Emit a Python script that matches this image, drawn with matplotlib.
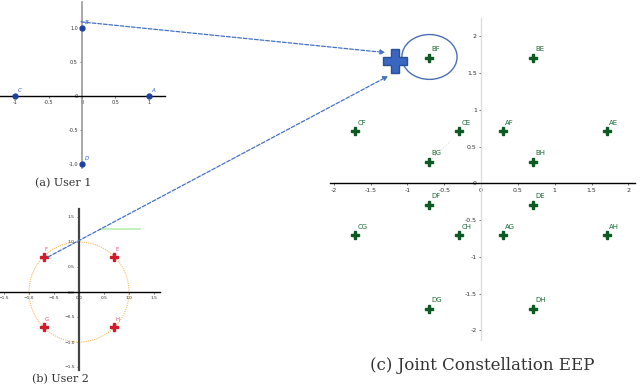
import matplotlib.pyplot as plt
from matplotlib.patches import ConnectionPatch, Ellipse

# user 1 constellation
u1_labels = ['A', 'B', 'C', 'D']
u1_x = [1, 0, -1, 0]
u1_y = [0, 1, 0, -1]

# user 2 constellation
u2_labels = ['E', 'F', 'G', 'H']
u2_x = [0.707, -0.707, -0.707, 0.707]
u2_y = [0.707, 0.707, -0.707, -0.707]

# joint constellation (sum of both users)
joint_labels = ['BF', 'BE', 'CF', 'CE', 'AF', 'AE', 'BG', 'BH',
                'DF', 'DE', 'CG', 'CH', 'AG', 'AH', 'DG', 'DH']
joint_x = [-0.707, 0.707, -1.707, -0.293, 0.293, 1.707, -0.707, 0.707,
           -0.707, 0.707, -1.707, -0.293, 0.293, 1.707, -0.707, 0.707]
joint_y = [1.707, 1.707, 0.707, 0.707, 0.707, 0.707, 0.293, 0.293,
           -0.293, -0.293, -0.707, -0.707, -0.707, -0.707, -1.707, -1.707]

W, H = 640, 392
fig = plt.figure(figsize=(W / 100, H / 100), dpi=100)


def px_axes(x0, y0, x1, y1):
    # axes box given in image pixels (top-left origin)
    return fig.add_axes([x0 / W, 1 - y1 / H, (x1 - x0) / W, (y1 - y0) / H])


def zero_axes(ax, xcol, ycol, xlw, ylw, fs):
    ax.patch.set_alpha(0)
    for s in ['top', 'right']:
        ax.spines[s].set_visible(False)
    ax.spines['left'].set_position('zero')
    ax.spines['bottom'].set_position('zero')
    ax.spines['bottom'].set_color(xcol)
    ax.spines['bottom'].set_linewidth(xlw)
    ax.spines['left'].set_color(ycol)
    ax.spines['left'].set_linewidth(ylw)
    ax.tick_params(labelsize=fs, length=1.5, width=0.5, pad=1.5,
                   colors='#333333')


# ---- (a) User 1
ax_a = px_axes(0, 2, 165, 168)
ax_a.set_xlim(-1.224, 1.239)
ax_a.set_ylim(-1.059, 1.382)
zero_axes(ax_a, 'black', '#999999', 1.0, 1.2, 3.5)
ax_a.set_xticks([-1, -0.5, 0, 0.5, 1])
ax_a.set_xticklabels(['-1', '-0.5', '0', '0.5', '1'])
ax_a.set_yticks([-1, -0.5, 0, 0.5, 1])
ax_a.set_yticklabels(['-1.0', '-0.5', '0', '0.5', '1.0'])
ax_a.plot(u1_x, u1_y, 'o', color='#1f3fa0', ms=3.5, zorder=5)
for lab, x, y in zip(u1_labels, u1_x, u1_y):
    ax_a.text(x + 0.04, y + 0.06, lab, fontsize=4, color='#3060d0',
              style='italic')
fig.text(63 / W, 1 - 183 / H, '(a) User 1', ha='center', va='center',
         fontsize=8, family='DejaVu Serif', color='#333333')

# ---- (b) User 2
ax_b = px_axes(0, 209, 160, 370)
ax_b.set_xlim(-1.58, 1.62)
ax_b.set_ylim(-1.56, 1.66)
zero_axes(ax_b, 'black', '#444444', 1.0, 1.6, 3.2)
ax_b.set_xticks([-1.5, -1, -0.5, 0, 0.5, 1, 1.5])
ax_b.set_yticks([-1.5, -1, -0.5, 0, 0.5, 1, 1.5])
circle = plt.Circle((0, 0), 1, fill=False, ls=(0, (1, 1)), lw=0.8,
                    color='#f5b860')
ax_b.add_patch(circle)
ax_b.plot([0.42, 1.22], [1.26, 1.26], color='#b8f0b0', lw=1.2)
ax_b.plot(u2_x, u2_y, 'P', color='#d01c2c', ms=6, zorder=5)
for lab, x, y in zip(u2_labels, u2_x, u2_y):
    ax_b.text(x + 0.02, y + 0.12, lab, fontsize=4, color='#e05070')
fig.text(60 / W, 1 - 379 / H, '(b) User 2', ha='center', va='center',
         fontsize=8, family='DejaVu Serif', color='#333333')

# ---- (c) Joint constellation
ax_c = px_axes(330, 18, 635, 340)
ax_c.set_xlim(-2.05, 2.09)
ax_c.set_ylim(-2.13, 2.25)
zero_axes(ax_c, 'black', '#dddddd', 1.0, 1.0, 4.5)
ax_c.set_xticks([-2, -1.5, -1, -0.5, 0, 0.5, 1, 1.5, 2])
ax_c.set_xticklabels(['-2', '-1.5', '-1', '-0.5', '0', '0.5', '1', '1.5', '2'])
ax_c.set_yticks([-2, -1.5, -1, -0.5, 0, 0.5, 1, 1.5, 2])
ax_c.set_yticklabels(['-2', '-1.5', '-1', '-0.5', '0', '0.5', '1', '1.5', '2'])
ax_c.plot([-0.707, -0.42], [0.293, 0.57], color='#cccccc', lw=0.6, ls=':')
ax_c.plot(joint_x, joint_y, 'P', color='#0b5a22', ms=5.2, zorder=5)
for lab, x, y in zip(joint_labels, joint_x, joint_y):
    ax_c.text(x + 0.03, y + 0.09, lab, fontsize=5, color='#1a6b35')
ax_c.add_patch(Ellipse((-0.70, 1.72), 0.75, 0.61, fill=False,
                       color='#4a6fb5', lw=1.0))
ax_c.plot([-1.166], [1.66], 'P', color='#3a66c0', mec='#2a4f9a', ms=17,
          zorder=6)
fig.text(482 / W, 1 - 366 / H, '(c) Joint Constellation EEP', ha='center',
         va='center', fontsize=12, family='DejaVu Serif', color='#333333')

# ---- dashed arrows from user points to the joint point
for ax_from, start, end in [(ax_a, (-0.015, 1.09), (-1.30, 1.78)),
                            (ax_b, (-0.62, 0.70), (-1.26, 1.46))]:
    con = ConnectionPatch(xyA=start, coordsA=ax_from.transData,
                          xyB=end, coordsB=ax_c.transData,
                          arrowstyle='-|>', mutation_scale=7,
                          color='#4472c4', lw=0.9, ls=(0, (3, 1.5)))
    fig.add_artist(con)

fig.savefig('out.png', dpi=100)
